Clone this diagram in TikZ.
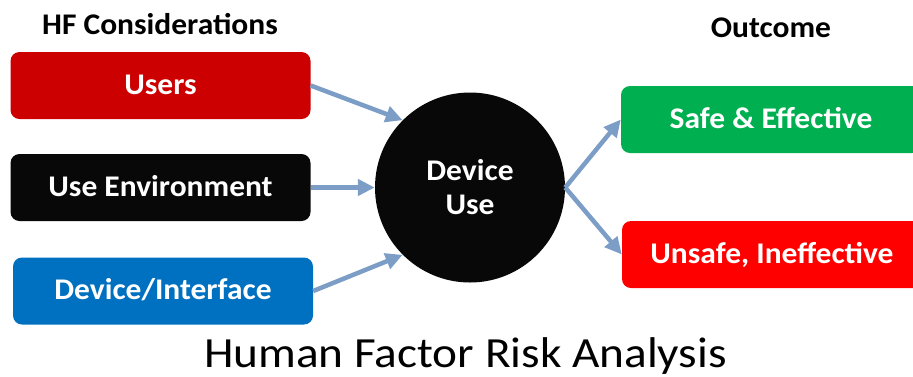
\documentclass[tikz,border=0pt]{standalone}
\usepackage{fontspec}
\setmainfont{Carlito}[FakeStretch=1.05]
\newfontfamily\captionfont{Carlito}[FakeStretch=1.1]
\usetikzlibrary{arrows.meta}

\definecolor{usersred}{HTML}{CC0000}
\definecolor{envblack}{HTML}{080808}
\definecolor{ifaceblue}{HTML}{0070C0}
\definecolor{safegreen}{HTML}{00B050}
\definecolor{unsafered}{HTML}{FF0000}
\definecolor{flowblue}{HTML}{7B9DC6}

\tikzset{
  factorbox/.style={rectangle, rounded corners=9pt, draw=none,
    minimum width=300pt, minimum height=67pt, inner sep=0pt,
    text=white, font=\fontsize{30}{36}\selectfont\bfseries,
    text height=17pt, text depth=0pt},
  heading/.style={anchor=base, inner sep=0pt,
    font=\fontsize{30}{36}\selectfont\bfseries},
  flow/.style={draw=flowblue, line width=4.5pt,
    -{Triangle[length=17pt,width=16pt]}, shorten <=0pt}
}

\begin{document}
\begin{tikzpicture}[x=1pt,y=-1pt]
  \useasboundingbox (0,0) rectangle (913,376);
  \clip (0,0) rectangle (913,376);

  % column headings
  \node[heading] (hfhead) at (160,34.5) {HF Considerations};
  \node[heading] (outhead) at (771,37) {Outcome};

  % human factor inputs
  \node[factorbox, fill=usersred] (users) at (160.5,85.5) {Users};
  \node[factorbox, fill=envblack] (env) at (160.5,187.5) {Use Environment};
  \node[factorbox, fill=ifaceblue] (iface) at (163,291) {Device/Interface};

  % central device use
  \node[circle, fill=envblack, minimum size=190pt, inner sep=0pt,
        text=white, align=center,
        font=\fontsize{30}{34}\selectfont\bfseries] (use) at (470,187.5)
        {Device\\Use};

  % outcomes
  \node[factorbox, fill=safegreen] (safe) at (771,119.5) {Safe \& Effective};
  \node[factorbox, fill=unsafered] (unsafe) at (772,254.5) {Unsafe, Ineffective};

  % connectors
  \draw[flow] (users.east) -- (use.135);
  \draw[flow] (env.east) -- (use.west);
  \draw[flow] (iface.east) -- (use.225);
  \draw[flow] (use.east) -- (safe.west);
  \draw[flow] (use.east) -- (unsafe.west);

  % caption
  \node[anchor=base, inner sep=0pt, font=\captionfont\fontsize{43}{50}\selectfont]
    (caption) at (465.5,367) {Human Factor Risk Analysis};
\end{tikzpicture}
\end{document}
